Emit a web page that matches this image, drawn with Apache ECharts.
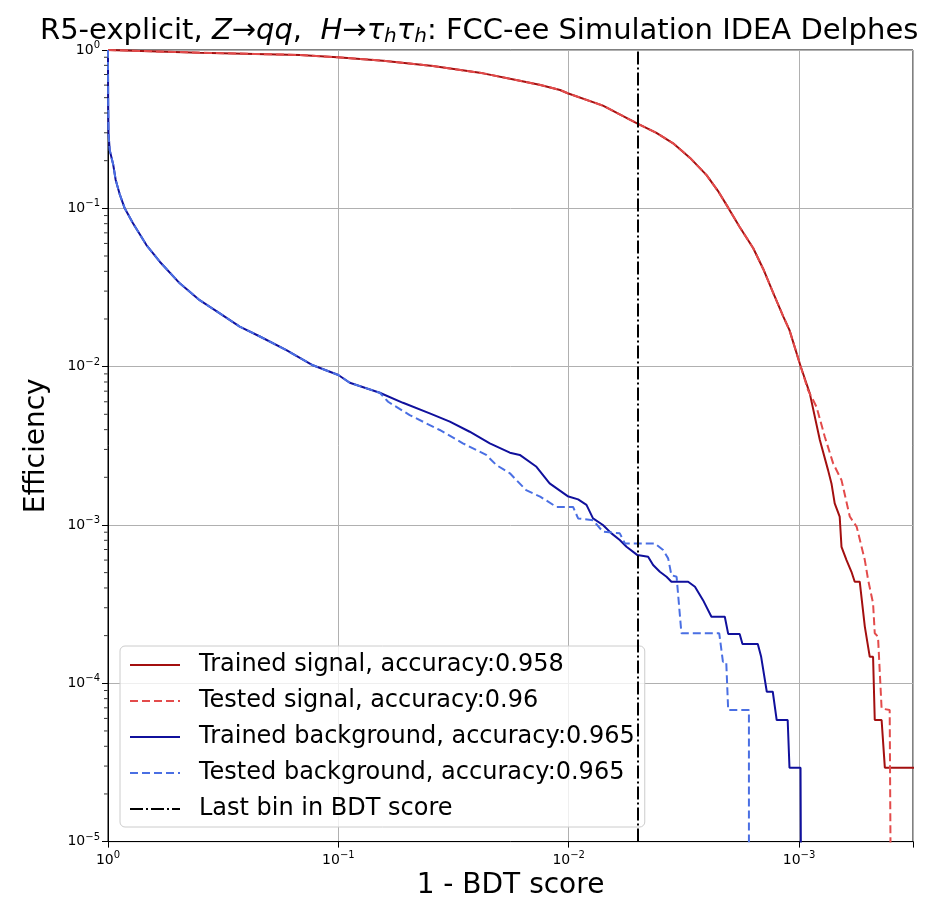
<!DOCTYPE html>
<html><head><meta charset="utf-8">
<script src="https://cdn.jsdelivr.net/npm/echarts@6/dist/echarts.min.js"></script>
<style>html,body{margin:0;padding:0;background:#fff}#c{width:925px;height:905px}</style>
</head><body><div id="c"></div>
<script>
// ---------------- data ----------------
const seriesNames = [
  'Trained signal, accuracy:0.958',
  'Tested signal, accuracy:0.96',
  'Trained background, accuracy:0.965',
  'Tested background, accuracy:0.965',
  'Last bin in BDT score'
];
const xRange = [3.2e-4, 1];
const yRange = [1e-5, 1];
const xTicks = [1, 0.1, 0.01, 0.001];
const yTicks = [1, 0.1, 0.01, 0.001, 1e-4, 1e-5];
const yMinorTicks = [
  2e-5,3e-5,4e-5,5e-5,6e-5,7e-5,8e-5,9e-5,
  2e-4,3e-4,4e-4,5e-4,6e-4,7e-4,8e-4,9e-4,
  2e-3,3e-3,4e-3,5e-3,6e-3,7e-3,8e-3,9e-3,
  0.02,0.03,0.04,0.05,0.06,0.07,0.08,0.09,
  0.2,0.3,0.4,0.5,0.6,0.7,0.8,0.9
];
const lastBinX = 0.005;

const sigTrain = [
  [1, 1], [0.40, 0.962], [0.147, 0.93], [0.101, 0.899], [0.064, 0.856],
  [0.0388, 0.792], [0.0235, 0.712], [0.0169, 0.646], [0.0134, 0.603], [0.0109, 0.559],
  [0.0101, 0.533], [0.0071, 0.445], [0.00505, 0.344], [0.00416, 0.30], [0.00352, 0.2575],
  [0.00298, 0.209], [0.00252, 0.162], [0.00225, 0.129], [0.00203, 0.101],
  [0.00181, 0.0762], [0.00158, 0.0559], [0.00143, 0.0414], [0.0013, 0.0297],
  [0.00117, 0.0207], [0.0011, 0.017], [0.000985, 0.0101], [0.000898, 0.00678], [0.000812, 0.00344],
  [0.000748, 0.00222], [0.000723, 0.00183], [0.0007, 0.00137], [0.000666, 0.00113],
  [0.000654, 0.000728], [0.000622, 0.0006], [0.000592, 0.000506], [0.000573, 0.000438],
  [0.000545, 0.000438], [0.000518, 0.000228], [0.000493, 0.000147], [0.000477, 0.000147],
  [0.000469, 5.86e-5], [0.000438, 5.86e-5], [0.000424, 2.93e-5], [0.0003, 2.93e-5]
];
const sigTest = [
  [1, 1], [0.40, 0.962], [0.147, 0.93], [0.101, 0.899], [0.064, 0.856],
  [0.0388, 0.792], [0.0235, 0.712], [0.0169, 0.646], [0.0134, 0.603], [0.0109, 0.559],
  [0.0101, 0.533], [0.0071, 0.445], [0.00505, 0.344], [0.00416, 0.30], [0.00352, 0.2575],
  [0.00298, 0.209], [0.00252, 0.162], [0.00225, 0.129], [0.00203, 0.101],
  [0.00181, 0.0762], [0.00158, 0.0559], [0.00143, 0.0414], [0.0013, 0.0297],
  [0.00117, 0.0207], [0.0011, 0.017], [0.000985, 0.0101], [0.000914, 0.00711], [0.00084, 0.00558],
  [0.000773, 0.00361], [0.000711, 0.00245], [0.000654, 0.00192], [0.000602, 0.00113],
  [0.000562, 0.000975], [0.000518, 0.0006], [0.000501, 0.000449], [0.000477, 0.00032],
  [0.000469, 0.000207], [0.000454, 0.000197], [0.000438, 6.93e-5], [0.000404, 6.77e-5],
  [0.000397, 1e-6]
];
const bgTrain = [
  [1, 1], [0.9995, 0.68], [0.998, 0.45], [0.995, 0.298], [0.983, 0.233], [0.95, 0.19],
  [0.926, 0.151], [0.89, 0.123], [0.846, 0.1], [0.779, 0.0804], [0.681, 0.0586], [0.596, 0.046],
  [0.488, 0.0336], [0.4, 0.0263], [0.327, 0.0217], [0.268, 0.0179], [0.219, 0.0155],
  [0.168, 0.0127], [0.129, 0.0102], [0.1, 0.00885], [0.0892, 0.00791], [0.0661, 0.00684],
  [0.0524, 0.00591], [0.0401, 0.00507], [0.0328, 0.00449], [0.0269, 0.00388],
  [0.022, 0.00328], [0.018, 0.00286], [0.0163, 0.00277], [0.0138, 0.00233],
  [0.0121, 0.00183], [0.0101, 0.00152], [0.0091, 0.00145], [0.00837, 0.00134],
  [0.00784, 0.0011], [0.0071, 0.000999], [0.00652, 0.000885], [0.006, 0.000803],
  [0.00561, 0.000728], [0.00503, 0.000645], [0.00452, 0.00063], [0.0043, 0.000558],
  [0.00402, 0.000506], [0.00376, 0.000471], [0.00358, 0.000438], [0.00303, 0.000438],
  [0.00283, 0.000407], [0.00261, 0.000335], [0.0024, 0.000263], [0.0021, 0.000263],
  [0.00203, 0.000205], [0.00181, 0.000205], [0.00176, 0.000177], [0.00151, 0.000177],
  [0.00146, 0.000147], [0.00138, 8.84e-5], [0.0013, 8.84e-5], [0.00125, 5.86e-5],
  [0.00112, 5.86e-5], [0.0011, 2.93e-5], [0.000985, 2.93e-5], [0.000976, 1e-6]
];
const bgTest = [
  [1, 1], [0.9995, 0.68], [0.998, 0.45], [0.995, 0.298], [0.983, 0.233], [0.95, 0.19],
  [0.926, 0.151], [0.89, 0.123], [0.846, 0.1], [0.779, 0.0804], [0.681, 0.0586], [0.596, 0.046],
  [0.488, 0.0336], [0.4, 0.0263], [0.327, 0.0217], [0.268, 0.0179], [0.219, 0.0155],
  [0.168, 0.0127], [0.129, 0.0102], [0.1, 0.00885], [0.0892, 0.00791], [0.0661, 0.00684],
  [0.0608, 0.006], [0.049, 0.00494], [0.0363, 0.00398], [0.0288, 0.00328],
  [0.0228, 0.00277], [0.0206, 0.00239], [0.018, 0.00212], [0.0153, 0.00166],
  [0.0133, 0.00151], [0.0113, 0.0013], [0.00957, 0.0013], [0.0091, 0.0011],
  [0.00784, 0.00107], [0.0071, 0.000906], [0.006, 0.000885], [0.0057, 0.000765],
  [0.00423, 0.000765], [0.00389, 0.000694], [0.0037, 0.000615], [0.00358, 0.000482],
  [0.0034, 0.000471], [0.00324, 0.000207], [0.00222, 0.000207], [0.00214, 0.000137],
  [0.00207, 0.000137], [0.00203, 6.77e-5], [0.00165, 6.77e-5], [0.00165, 1e-6]
];

// ---------------- chart ----------------
const FONT = 'DejaVu Sans';
const colors = ['#a30f0f', '#e34b4b', '#10109c', '#4a6fe3', '#000000'];

function expLabel(v) {
  const e = Math.log10(v);
  const r = Math.round(e);
  if (Math.abs(e - r) > 1e-6) return '';
  const ex = r < 0 ? '\u2212' + (-r) : String(r);
  return '{b|10}{s|' + ex + '}';
}
const tickRich = {
  b: { fontSize: 14, fontFamily: FONT, color: '#000' },
  s: { fontSize: 10, fontFamily: FONT, color: '#000', padding: [0, 0, 9, 0] }
};

const chart = echarts.init(document.getElementById('c'), null, { renderer: 'canvas' });

function lineSeries(name, data, color, type, z) {
  return {
    name: name, type: 'line', data: data, symbol: 'none', showSymbol: false,
    lineStyle: { color: color, width: 2, type: type },
    itemStyle: { color: color },
    z: z, clip: true, animation: false
  };
}

const option = {
  animation: false,
  backgroundColor: '#ffffff',
  title: {
    left: 35, top: 10,
    text: '{n|R5-explicit, }{i|Z}{n|\u2192}{i|qq}{n|,  }{i|H}{n|\u2192}{i|\u03c4}{s|h}{i|\u03c4}{s|h}{n|: FCC-ee Simulation IDEA Delphes}',
    textStyle: {
      fontWeight: 'normal',
      rich: {
        n: { fontSize: 29, fontFamily: FONT, fontWeight: 'normal', color: '#000' },
        i: { fontSize: 29, fontFamily: FONT, fontWeight: 'normal', fontStyle: 'italic', color: '#000' },
        s: { fontSize: 20, fontFamily: FONT, fontWeight: 'normal', fontStyle: 'italic', color: '#000', padding: [12, 0, 0, 0] }
      }
    }
  },
  legend: {
    data: seriesNames,
    orient: 'vertical',
    left: 120, top: 646,
    itemWidth: 50, itemHeight: 14, itemGap: 12,
    padding: [7, 10, 6, 9],
    backgroundColor: 'rgba(255,255,255,0.8)',
    borderColor: '#cccccc', borderWidth: 1, borderRadius: 5,
    itemStyle: { opacity: 0, borderWidth: 0 },
    textStyle: { fontSize: 24, fontFamily: FONT, color: '#000', padding: [0, 0, 0, 14] },
    selectedMode: false
  },
  grid: {
    left: 108, right: 12, top: 50, bottom: 63,
    containLabel: false,
    show: true, borderColor: '#000', borderWidth: 1, backgroundColor: 'transparent'
  },
  xAxis: {
    type: 'log', logBase: 10, inverse: true,
    min: xRange[0], max: xRange[1],
    name: '1 - BDT score', nameLocation: 'middle', nameGap: 28,
    nameTextStyle: { fontSize: 28, fontFamily: FONT, color: '#000' },
    axisLine: { show: true, onZero: false, lineStyle: { color: '#000', width: 1 } },
    axisTick: { show: true, inside: false, length: 6, lineStyle: { color: '#000' } },
    axisLabel: { margin: 9, formatter: expLabel, rich: tickRich },
    splitLine: { show: true, lineStyle: { color: '#b0b0b0', width: 1 } },
    minorTick: { show: false }
  },
  yAxis: {
    type: 'log', logBase: 10,
    min: yRange[0], max: yRange[1],
    name: 'Efficiency', nameLocation: 'middle', nameGap: 57, nameRotate: 90,
    nameTextStyle: { fontSize: 28, fontFamily: FONT, color: '#000' },
    axisLine: { show: true, onZero: false, lineStyle: { color: '#000', width: 1 } },
    axisTick: { show: true, inside: false, length: 6, lineStyle: { color: '#000' } },
    axisLabel: { margin: 8, formatter: expLabel, rich: tickRich },
    splitLine: { show: true, lineStyle: { color: '#b0b0b0', width: 1 } }
  },
  series: [
    lineSeries(seriesNames[0], sigTrain, colors[0], 'solid', 2),
    lineSeries(seriesNames[1], sigTest, colors[1], [8, 4], 3),
    lineSeries(seriesNames[2], bgTrain, colors[2], 'solid', 4),
    lineSeries(seriesNames[3], bgTest, colors[3], [8, 4], 5),
    lineSeries(seriesNames[4], [[lastBinX, yRange[0]], [lastBinX, yRange[1]]], colors[4], [13, 3, 2, 3], 6),
    {
      name: 'minorTicks', type: 'scatter', silent: true, clip: false,
      data: yMinorTicks.map(v => [xRange[1], v]),
      symbol: 'rect', symbolSize: [3.5, 1], symbolOffset: [-2.25, 0],
      itemStyle: { color: '#000' }, z: 7
    }
  ]
};
chart.setOption(option);
</script>
</body></html>
